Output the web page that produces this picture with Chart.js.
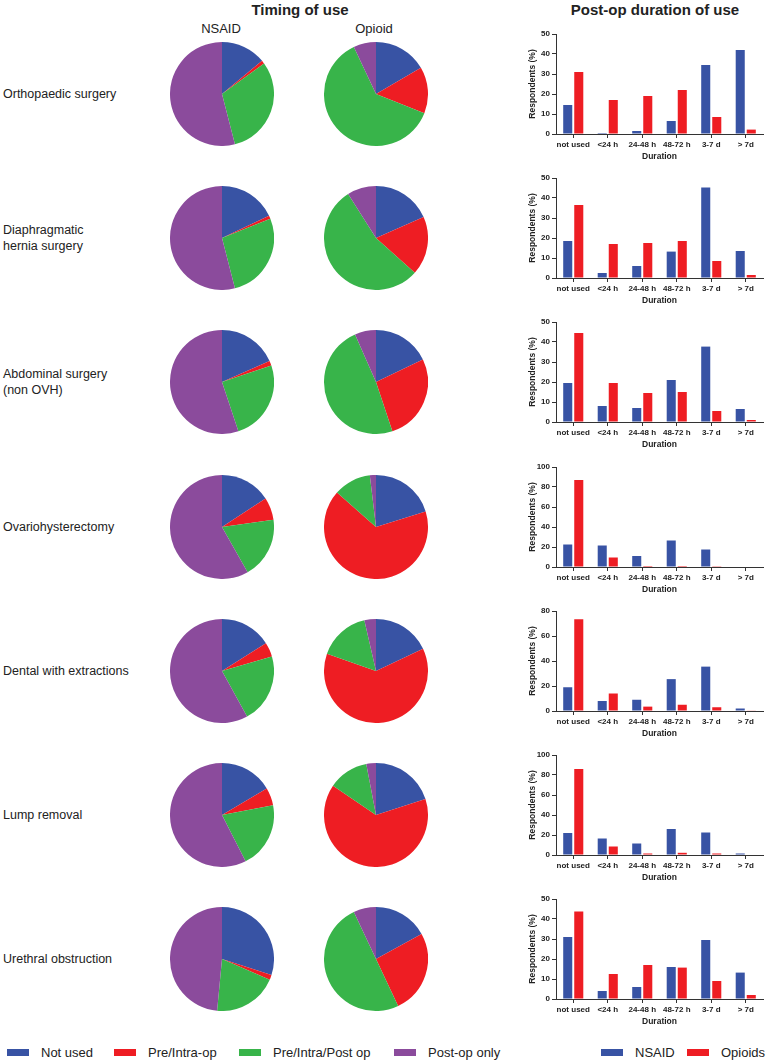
<!DOCTYPE html>
<html>
<head>
<meta charset="utf-8">
<script src="https://cdn.jsdelivr.net/npm/chart.js@4.4.0/dist/chart.umd.min.js"></script>
<style>
  body { margin: 0; background: #fff; font-family: 'Liberation Sans', Arial, sans-serif; color: #222; }
  #page { position: relative; width: 767px; height: 1064px; overflow: hidden; }
  .abs { position: absolute; }
  .head { font-weight: bold; font-size: 15px; transform: translateX(-50%); white-space: nowrap; }
  .sub { font-size: 13px; transform: translateX(-50%); white-space: nowrap; }
  .rowlab { font-size: 12.5px; line-height: 16px; transform: translateY(-50%); }
  .leg { font-size: 13px; white-space: nowrap; display: flex; align-items: center; }
  .box { display: inline-block; width: 22px; height: 7px; margin-right: 12px; }
</style>
</head>
<body>
<div id="page"></div>
<script>
// Categories and series
var surgeries = ['Orthopaedic surgery', 'Diaphragmatic<br>hernia surgery', 'Abdominal surgery<br>(non OVH)',
  'Ovariohysterectomy', 'Dental with extractions', 'Lump removal', 'Urethral obstruction'];
var timingLabels = ['Not used', 'Pre/Intra-op', 'Pre/Intra/Post op', 'Post-op only'];
var timingColors = ['#3853A4', '#EE1D23', '#38B44A', '#8B4B9C'];

// Timing of use (% of respondents), one row per surgery
var nsaidTiming = [
  [14, 1, 31, 54],
  [18, 1, 27, 54],
  [18.4, 1.5, 25, 55.1],
  [15.8, 7, 19, 58.2],
  [16, 4.5, 21.5, 58],
  [16.5, 5.5, 20.5, 57.5],
  [30, 1.5, 20, 48.5]
];
var opioidTiming = [
  [16.6, 14.4, 62, 7],
  [18.4, 18.2, 54.4, 9],
  [17.9, 27, 48.5, 6.6],
  [20.2, 66.3, 11.6, 1.9],
  [18, 62.4, 16, 3.6],
  [20, 64.5, 12.5, 3],
  [17, 26, 50, 7]
];

// Post-op duration of use
var durations = ['not used', '<24 h', '24-48 h', '48-72 h', '3-7 d', '> 7d'];
var nsaidDuration = [
  [14.5, 0.5, 1.5, 6.5, 34.5, 42],
  [18.5, 2.5, 6, 13.2, 45.2, 13.5],
  [19.5, 8, 7, 21, 37.7, 6.5],
  [22.5, 21.5, 11, 26.5, 17.5, 0],
  [19, 8, 9, 25.5, 35.5, 2],
  [22, 16.5, 11.5, 26, 22.5, 1.5],
  [31, 4, 6, 16, 29.5, 13.2]
];
var opioidDuration = [
  [31, 17, 19, 22, 8.5, 2.2],
  [36.5, 17, 17.5, 18.5, 8.5, 1.5],
  [44.5, 19.5, 14.5, 15, 5.5, 1],
  [87, 9.5, 1, 1, 0.8, 0],
  [73.5, 14, 3.5, 5, 3, 0.5],
  [86, 8.5, 1.5, 2.2, 1.5, 0],
  [43.7, 12.5, 17, 15.7, 9, 2]
];
var yMax = [50, 50, 50, 100, 80, 100, 50];
var yStep = [10, 10, 10, 20, 20, 20, 10];

Chart.defaults.font.family = "'Liberation Sans', Arial, sans-serif";
Chart.defaults.color = '#222';
Chart.defaults.animation = false;

var page = document.getElementById('page');

function addDiv(cls, html, left, top) {
  var d = document.createElement('div');
  d.className = 'abs ' + cls;
  d.innerHTML = html;
  d.style.left = left + 'px';
  d.style.top = top + 'px';
  page.appendChild(d);
  return d;
}

function addCanvas(left, top, w, h) {
  var d = document.createElement('div');
  d.className = 'abs';
  d.style.left = left + 'px';
  d.style.top = top + 'px';
  d.style.width = w + 'px';
  d.style.height = h + 'px';
  var c = document.createElement('canvas');
  d.appendChild(c);
  page.appendChild(d);
  return c;
}

// headers
addDiv('head', 'Timing of use', 300, 1);
addDiv('sub', 'NSAID', 221, 21);
addDiv('sub', 'Opioid', 374, 21);
addDiv('head', 'Post-op duration of use', 655, 1);

var rowGap = 144.2;
var pieR = 52;

function makePie(cx, cy, values) {
  var c = addCanvas(cx - pieR, cy - pieR, pieR * 2, pieR * 2);
  new Chart(c, {
    type: 'pie',
    data: {
      labels: timingLabels,
      datasets: [{ data: values, backgroundColor: timingColors, borderWidth: 0 }]
    },
    options: {
      responsive: true,
      maintainAspectRatio: false,
      plugins: { legend: { display: false }, tooltip: { enabled: false } }
    }
  });
}

function makeBars(i, top) {
  var c = addCanvas(526, top, 241, 142);
  var axisColor = '#333';
  new Chart(c, {
    type: 'bar',
    data: {
      labels: durations,
      datasets: [
        { label: 'NSAID', data: nsaidDuration[i], backgroundColor: '#3853A4' },
        { label: 'Opioids', data: opioidDuration[i], backgroundColor: '#EE1D23' }
      ]
    },
    options: {
      responsive: true,
      maintainAspectRatio: false,
      layout: { padding: { top: 8, right: 4, left: 0, bottom: 0 } },
      categoryPercentage: 0.64,
      barPercentage: 0.82,
      scales: {
        x: {
          afterFit: function (s) { s.height = 34; },
          grid: { drawOnChartArea: false, drawTicks: true, tickLength: 4, color: axisColor, offset: false },
          border: { color: axisColor, width: 1 },
          ticks: { font: { size: 8, weight: 'bold' }, padding: 2, maxRotation: 0, autoSkip: false },
          title: { display: true, text: 'Duration', font: { size: 8.5, weight: 'bold' }, padding: { top: 0, bottom: 6 } }
        },
        y: {
          min: 0,
          max: yMax[i],
          afterFit: function (s) { s.width = 30; },
          grid: { drawOnChartArea: false, drawTicks: true, tickLength: 4, color: axisColor },
          border: { color: axisColor, width: 1 },
          ticks: { stepSize: yStep[i], font: { size: 8, weight: 'bold' }, padding: 2 },
          title: { display: true, text: 'Respondents (%)', font: { size: 8.5, weight: 'bold' }, padding: { top: 2, bottom: 0 } }
        }
      },
      plugins: { legend: { display: false }, tooltip: { enabled: false } }
    }
  });
}

for (var i = 0; i < surgeries.length; i++) {
  var cy = 94 + rowGap * i;
  addDiv('rowlab', surgeries[i], 3, cy);
  makePie(222, cy, nsaidTiming[i]);
  makePie(376, cy, opioidTiming[i]);
  makeBars(i, 26 + rowGap * i);
}

// shared legends
var legY = 1045;
var legX = [7, 114, 239, 394];
for (var k = 0; k < timingLabels.length; k++) {
  addDiv('leg', '<span class="box" style="background:' + timingColors[k] + '"></span>' + timingLabels[k], legX[k], legY);
}
addDiv('leg', '<span class="box" style="background:#3853A4"></span>NSAID', 601, legY);
addDiv('leg', '<span class="box" style="background:#EE1D23"></span>Opioids', 687, legY);
</script>
</body>
</html>
